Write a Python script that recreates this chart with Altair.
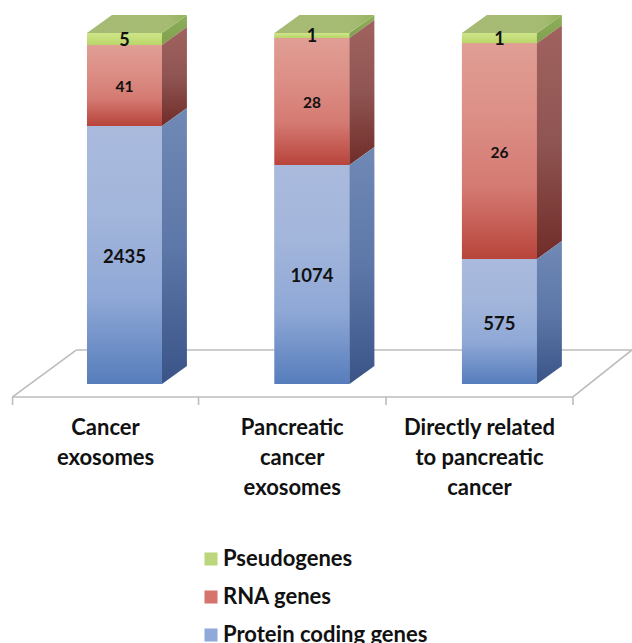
import altair as alt
import pandas as pd

categories = ["Cancer\nexosomes", "Pancreatic\ncancer\nexosomes", "Directly related\nto pancreatic\ncancer"]
series = ["Pseudogenes", "RNA genes", "Protein coding genes"]

# Printed gene counts per column
pseudo_counts = [5, 1, 1]
rna_counts = [41, 28, 26]
protein_counts = [2435, 1074, 575]

# Drawn height of each segment, as a percentage of the column; the printed
# counts are annotations and the column heights are not proportional to them
pseudo_share = [3.4, 1.4, 2.9]
rna_share = [23.1, 36.2, 61.5]
protein_share = [73.5, 62.4, 35.6]

# Scene proportions, in column-spacing units (x) and percent units (y)
HALF_W = 0.2
DEPTH_X = 0.133
DEPTH_Y = 5.13
X_DOMAIN = [-0.664, 2.707]
Y_DOMAIN = [-73.8, 109.4]
FLOOR_FRONT = -3.7
FLOOR_BACK = 9.69
FLOOR_TICK = -6.0
FLOOR_TICKS = [-0.597, 0.395, 1.395, 2.392]
FLOOR_INSET = 0.341
FLOOR_COLOR = "#bcbcbc"

x_scale = alt.Scale(domain=X_DOMAIN, range=[0, 632], nice=False, zero=False)
y_scale = alt.Scale(domain=Y_DOMAIN, range=[643, 0], nice=False, zero=False)


def grad(*stops):
    n = len(stops) - 1
    return alt.Gradient(
        gradient="linear", x1=0, x2=0, y1=0, y2=1,
        stops=[alt.GradientStop(color=c, offset=i / n) for i, c in enumerate(stops)],
    )


front_fill = {
    "Pseudogenes": grad("#cfe58a", "#b9d669"),
    "RNA genes": grad("#e09e94", "#dc8f86", "#d47a72", "#b8443b"),
    "Protein coding genes": grad("#a9badd", "#a3b6db", "#8fa8d6", "#567dbb"),
}
side_fill = {
    "Pseudogenes": grad("#8fb05a", "#7f9f4c"),
    "RNA genes": grad("#a0625f", "#8f5552", "#702c28"),
    "Protein coding genes": grad("#7089b5", "#5d77a8", "#3a5488"),
}

stack = {
    "Protein coding genes": (protein_share, protein_counts),
    "RNA genes": (rna_share, rna_counts),
    "Pseudogenes": (pseudo_share, pseudo_counts),
}
label_size = {"Pseudogenes": 18, "RNA genes": 15.5, "Protein coding genes": 18.5}

# Stack the segments bottom-up for every column
rows = []
for c in range(len(categories)):
    base = 0.0
    for name, (shares, counts) in stack.items():
        rows.append({
            "cat": c, "series": name, "lo": base, "hi": base + shares[c],
            "count": counts[c], "mid": base + shares[c] / 2,
            "left": c - HALF_W, "right": c + HALF_W,
        })
        base += shares[c]
segments = pd.DataFrame(rows)

# Each side face is a two-point area running back from the front edge
side_rows = []
for r in rows:
    side_rows.append({"key": f'{r["cat"]}-{r["series"]}', "series": r["series"],
                      "x": r["right"], "y": r["lo"], "y2": r["hi"]})
    side_rows.append({"key": f'{r["cat"]}-{r["series"]}', "series": r["series"],
                      "x": r["right"] + DEPTH_X, "y": r["lo"] + DEPTH_Y, "y2": r["hi"] + DEPTH_Y})
sides = pd.DataFrame(side_rows)

# Top cap of each column, sheared toward the back
cap_rows = []
for c in range(len(categories)):
    top = 100.0
    for t, y in [(0, top), (1, top + DEPTH_Y)]:
        cap_rows.append({"cat": c, "y": y,
                         "x": c - HALF_W + t * DEPTH_X, "x2": c + HALF_W + t * DEPTH_X})
caps = pd.DataFrame(cap_rows)

# Floor outline and its tick marks
left, right = FLOOR_TICKS[0], FLOOR_TICKS[-1]
floor_rows = [
    {"x": left, "x2": right, "y": FLOOR_FRONT, "y2": FLOOR_FRONT},
    {"x": left + FLOOR_INSET, "x2": X_DOMAIN[1], "y": FLOOR_BACK, "y2": FLOOR_BACK},
    {"x": left, "x2": left + FLOOR_INSET, "y": FLOOR_FRONT, "y2": FLOOR_BACK},
    {"x": right, "x2": X_DOMAIN[1], "y": FLOOR_FRONT, "y2": FLOOR_BACK},
] + [{"x": t, "x2": t, "y": FLOOR_FRONT, "y2": FLOOR_TICK} for t in FLOOR_TICKS]
floor = pd.DataFrame(floor_rows)

X = lambda f: alt.X(f, type="quantitative", scale=x_scale, axis=None)
Y = lambda f: alt.Y(f, type="quantitative", scale=y_scale, axis=None)

floor_layer = alt.Chart(floor).mark_rule(color=FLOOR_COLOR, strokeWidth=1.6).encode(
    x=X("x"), x2="x2", y=Y("y"), y2="y2"
)

# Solid base of the front faces; this layer also carries the legend
base_layer = alt.Chart(segments).mark_rect().encode(
    x=X("left"), x2="right", y=Y("lo"), y2="hi",
    color=alt.Color(
        "series:N",
        scale=alt.Scale(domain=series, range=["#bcd77b", "#d5736c", "#8ea9da"]),
        legend=alt.Legend(
            title=None, orient="none", legendX=200, legendY=548, direction="vertical",
            symbolType="square", symbolSize=170, symbolStrokeWidth=0, symbolOpacity=1,
            labelFont="Lato", labelFontSize=22, labelFontWeight="bold", labelColor="#111111",
            labelLimit=300, rowPadding=16, labelOffset=1,
        ),
    ),
)

layers = [floor_layer, base_layer]
for name in series:
    layers.append(
        alt.Chart(segments[segments["series"] == name])
        .mark_rect(color=front_fill[name])
        .encode(x=X("left"), x2="right", y=Y("lo"), y2="hi")
    )
    layers.append(
        alt.Chart(sides[sides["series"] == name])
        .mark_area(color=side_fill[name])
        .encode(x=X("x"), y=Y("y"), y2="y2", detail="key:N")
    )

cap_layer = alt.Chart(caps).mark_area(
    orient="horizontal",
    color=alt.Gradient(gradient="linear", x1=0, x2=1, y1=0, y2=0,
                       stops=[alt.GradientStop(color="#a6ba74", offset=0),
                              alt.GradientStop(color="#a6bb72", offset=0.8),
                              alt.GradientStop(color="#94b35f", offset=1)]),
).encode(y=Y("y"), x=X("x"), x2="x2", detail="cat:N")
layers.append(cap_layer)

for name in series:
    layers.append(
        alt.Chart(segments[segments["series"] == name])
        .mark_text(font="Lato", fontWeight="bold", fontSize=label_size[name], color="#111111", dy=2)
        .encode(x=alt.X("cat:Q", scale=x_scale, axis=None), y=Y("mid"), text="count:N")
    )

category_labels = pd.DataFrame({
    "label": categories,
    "x": [(a + b) / 2 for a, b in zip(FLOOR_TICKS[:-1], FLOOR_TICKS[1:])],
    "y": [FLOOR_FRONT] * 3,
})
layers.append(
    alt.Chart(category_labels)
    .mark_text(font="Lato", fontWeight="bold", fontSize=22, color="#111111",
               lineBreak="\n", lineHeight=30, baseline="top", align="center", dy=21)
    .encode(x=X("x"), y=Y("y"), text="label:N")
)

chart = (
    alt.layer(*layers)
    .resolve_scale(color="independent")
    .properties(width=632, height=643, padding=0, autosize=alt.AutoSizeParams(type="none"))
    .configure_view(stroke=None)
)

chart.save("out.html", embed_options={"renderer": "svg", "actions": False})
